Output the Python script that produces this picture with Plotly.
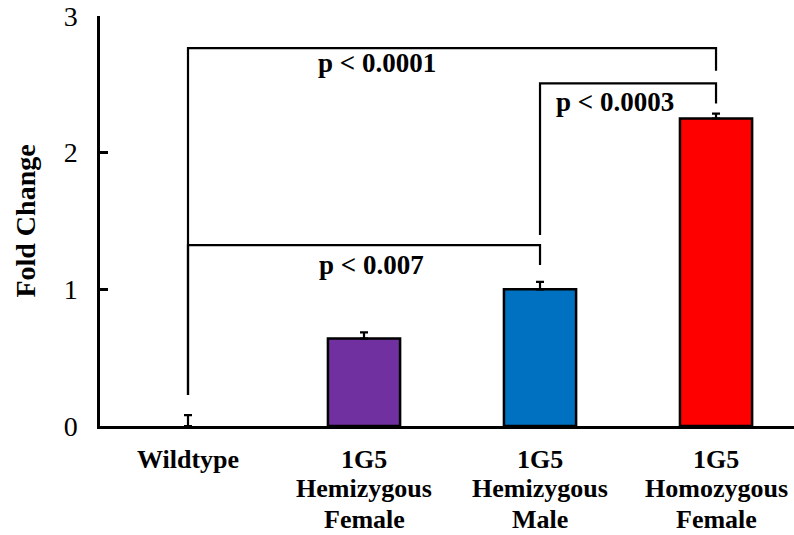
import plotly.graph_objects as go

# Groups and measured fold change (mean with upper error)
categories = [
    ["Wildtype"],
    ["1G5", "Hemizygous", "Female"],
    ["1G5", "Hemizygous", "Male"],
    ["1G5", "Homozygous", "Female"],
]
fold_change = [0.0, 0.64, 1.0, 2.25]
error_up = [0.08, 0.045, 0.055, 0.035]
bar_colors = ["#FFFFFF", "#7030A0", "#0070C0", "#FF0000"]
y_ticks = [0, 1, 2, 3]

# Significance brackets: (left index, right index, top, left leg bottom, right leg bottom)
brackets = [
    (0, 3, 2.765, 0.227, 2.60),
    (2, 3, 2.507, 1.397, 2.36),
    (0, 2, 1.324, 0.227, 1.178),
]
# p-value labels: (text, x position, y position)
p_labels = [
    ("p < 0.0001", 1.074, 2.655),
    ("p < 0.0003", 2.426, 2.37),
    ("p < 0.007", 1.04, 1.175),
]

FONT = "Liberation Serif, Times New Roman, serif"
PLOT_TOP, PLOT_BOTTOM = 16, 426
PLOT_H = PLOT_BOTTOM - PLOT_TOP
x_idx = list(range(len(categories)))

fig = go.Figure()
fig.add_trace(go.Bar(
    x=x_idx,
    y=fold_change,
    width=0.41,
    marker=dict(color=bar_colors,
                line=dict(color="black", width=[0 if v == 0 else 2.5 for v in fold_change])),
    error_y=dict(type="data", symmetric=False, array=error_up,
                 arrayminus=[0] * len(error_up), color="black",
                 thickness=2.2, width=4),
    showlegend=False,
    hoverinfo="skip",
))

for left, right, top, lb, rb in brackets:
    path = f"M {left},{lb} L {left},{top} L {right},{top} L {right},{rb}"
    fig.add_shape(type="path", path=path, xref="x", yref="y",
                  line=dict(color="black", width=2.2))

for text, px, py in p_labels:
    fig.add_annotation(x=px, y=py, xref="x", yref="y", text=f"<b>{text}</b>",
                       showarrow=False, xanchor="center", yanchor="middle",
                       font=dict(family=FONT, size=27, color="black"))

# Category labels, one line at a time for tighter line spacing
for i, lines in enumerate(categories):
    for k, line in enumerate(lines):
        offset_px = 33 + 30 * k
        fig.add_annotation(x=i, y=-offset_px / PLOT_H, xref="x", yref="paper",
                           text=f"<b>{line}</b>", showarrow=False, borderpad=0,
                           xanchor="center", yanchor="middle",
                           font=dict(family=FONT, size=26, color="black"))

fig.update_layout(
    width=794, height=535,
    margin=dict(l=100, r=0, t=PLOT_TOP, b=535 - PLOT_BOTTOM),
    paper_bgcolor="white", plot_bgcolor="white",
    font=dict(family=FONT, color="black"),
)
fig.update_xaxes(
    range=[-0.5, 3.443],
    tickmode="array", tickvals=x_idx, showticklabels=False,
    showline=True, linecolor="black", linewidth=2.5,
    ticks="", showgrid=False, zeroline=False,
)
fig.update_yaxes(
    range=[0, 3],
    tickmode="array", tickvals=y_ticks,
    tickfont=dict(family=FONT, size=28, color="black"),
    ticks="inside", ticklen=8, tickwidth=2.5, tickcolor="black",
    ticklabelstandoff=14,
    showline=True, linecolor="black", linewidth=2.5,
    showgrid=False, zeroline=False,
    title=dict(text="<b>Fold Change</b>", font=dict(family=FONT, size=28, color="black"), standoff=20),
)

fig.write_html("out.html")
